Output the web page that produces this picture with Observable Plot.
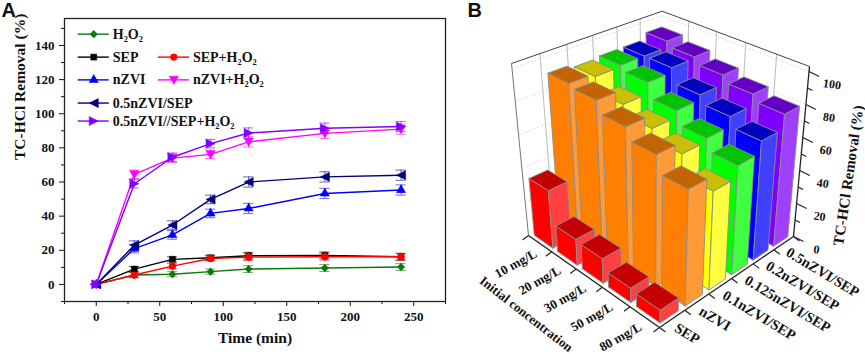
<!DOCTYPE html>
<html><head><meta charset="utf-8">
<script src="https://cdn.jsdelivr.net/npm/d3@7"></script>
<script src="https://cdn.jsdelivr.net/npm/@observablehq/plot@0.6"></script>
<style>html,body{margin:0;padding:0;background:#fff}#c{position:relative;width:865px;height:354px;overflow:hidden}#c svg{position:absolute;top:0;background:none}</style>
</head><body><div id="c"></div>
<script>
const times=[0,30,60,90,120,180,240];
const h2o2=[0,5.5,6,7.5,9,9.6,10.2];
const sep=[0,9,14.7,15.6,16.8,17,16.2];
const sepH=[0,5.5,10.7,15.2,16,16.2,16.2];
const nzvi=[0,21,29,41.6,44.5,53.3,55.3];
const nzviH=[0,64.5,74,76.2,83.5,88.5,91];
const comp=[0,23,34.8,49.8,60,63,64];
const compH=[0,59,74.5,82.5,88.7,91.5,92.5];
const errs=[0,1.5,1.5,1.5,2,2,2];
const errsBig=[0,2.5,2.5,2.5,3,3,3];
const tri=(pts)=>({draw(c,size){const r=Math.sqrt(size)*0.76;pts.forEach(([a,b],i)=>i?c.lineTo(a*r,b*r):c.moveTo(a*r,b*r));c.closePath();}});
const down=tri([[-1,-.8],[1,-.8],[0,1]]),left=tri([[1,-1],[1,1],[-1,0]]),right=tri([[-1,-1],[-1,1],[1,0]]);
const series=[
 {name:"H₂O₂",v:h2o2,e:errs,color:"#0a7a0a",sym:"diamond2",lx:78,ly:33.7},
 {name:"SEP",v:sep,e:errs,color:"#000000",sym:"square",lx:78,ly:56.7},
 {name:"SEP+H₂O₂",v:sepH,e:errs,color:"#ff0000",sym:"circle",lx:158,ly:56.7},
 {name:"nZVI",v:nzvi,e:errsBig,color:"#0000ff",sym:"triangle",lx:78,ly:79.5},
 {name:"nZVI+H₂O₂",v:nzviH,e:errsBig,color:"#ff00ff",sym:down,lx:158,ly:79.5},
 {name:"0.5nZVI/SEP",v:comp,e:errsBig,color:"#000080",sym:left,lx:78,ly:102.7},
 {name:"0.5nZVI//SEP+H₂O₂",v:compH,e:errsBig,color:"#8000ff",sym:right,lx:78,ly:120.7}];
const xD=p=>(p-96)/1.268, yD=p=>(284.3-p)/1.709;
const marksA=[];
for(const s of series){
  const rows=times.map((t,i)=>({t,v:s.v[i],e:s.e[i]}));
  marksA.push(
   Plot.ruleX(rows,{x:"t",y1:d=>d.v-d.e,y2:d=>d.v+d.e,stroke:s.color,strokeOpacity:.6,strokeWidth:1}),
   Plot.ruleY(rows,{y:d=>d.v-d.e,x1:d=>d.t-4,x2:d=>d.t+4,stroke:s.color,strokeOpacity:.6,strokeWidth:1}),
   Plot.ruleY(rows,{y:d=>d.v+d.e,x1:d=>d.t-4,x2:d=>d.t+4,stroke:s.color,strokeOpacity:.6,strokeWidth:1}),
   Plot.line(rows,{x:"t",y:"v",stroke:s.color,strokeWidth:1.4}),
   Plot.dot(rows,{x:"t",y:"v",fill:s.color,stroke:s.color,strokeWidth:.5,symbol:s.sym,r:3.4}),
   Plot.ruleY([yD(s.ly)],{x1:xD(s.lx),x2:xD(s.lx+31),stroke:s.color,strokeWidth:1.4}),
   Plot.dot([0],{x:xD(s.lx+15.5),y:yD(s.ly),fill:s.color,stroke:s.color,strokeWidth:.5,symbol:s.sym,r:3.4}),
   Plot.text([s.name],{x:xD(s.lx+34.5),y:yD(s.ly),textAnchor:"start",fontSize:14,fontWeight:"bold",fill:"#111"})
  );
}
const serif='"Liberation Serif",serif';
const plotA=Plot.plot({width:450,height:354,marginLeft:64,marginRight:5,marginTop:18,marginBottom:53,
 x:{domain:[-25,275]},y:{domain:[-10,155.8]},style:{fontFamily:serif,fontWeight:"bold",fontSize:"13px",color:"#111",background:"none"},
 marks:[
  Plot.frame({stroke:"#222",strokeWidth:1.3}),
  Plot.axisX({ticks:d3.range(-25,276,25).filter(d=>d%50),tickSize:3,fill:"none",label:null}),
  Plot.axisY({ticks:d3.range(-10,156,20),tickSize:3,fill:"none",label:null}),
  Plot.axisX({ticks:d3.range(0,251,50),tickSize:5,tickPadding:5,label:null,fontSize:13}),
  Plot.axisY({ticks:d3.range(0,141,20),tickSize:5,tickPadding:5,label:null,fontSize:13}),
  ...marksA,
  Plot.text(["Time (min)"],{frameAnchor:"bottom",dy:41,fontSize:15.5,fontWeight:"bold",fill:"#111"}),
  Plot.text(["TC-HCl Removal (%)"],{frameAnchor:"left",dx:-44,rotate:-90,fontSize:15.5,fontWeight:"bold",fill:"#111"}),
  Plot.text(["A"],{frameAnchor:"top-left",dx:-63,dy:-16,textAnchor:"start",fontSize:20,fontWeight:"bold",fontFamily:'"Liberation Sans",sans-serif',fill:"#111"})
 ]});

// Panel B
const concs=["10 mg/L","20 mg/L","30 mg/L","50 mg/L","80 mg/L"];
const mats=["SEP","nZVI","0.1nZVI/SEP","0.125nZVI/SEP","0.2nZVI/SEP","0.5nZVI/SEP"];
const v0=[34,15,14,8,7];
const v1=[91,89,82,75,65];
const v2=[89,80,74,68,56];
const v3=[90,87,78,70,63];
const v4=[90,90,81,76,70];
const v5=[94,91,87,83,79];
const values=[v0,v1,v2,v3,v4,v5];
const cols=[["#ff0000","#ff4040","#c40000"],["#ff8000","#ff9a36","#c46400"],["#ffff00","#ffff40","#c8c000"],["#00ff00","#40ff40","#00c400"],["#0000ff","#4040ff","#0000c0"],["#8000ff","#a040ff","#6400c4"]];
const hTop=103;
function quad(p){const [[x0,y0],[x1,y1],[x2,y2],[x3,y3]]=p;
 const dx1=x1-x2,dx2=x3-x2,sx=x0-x1+x2-x3,dy1=y1-y2,dy2=y3-y2,sy=y0-y1+y2-y3,den=dx1*dy2-dx2*dy1;
 const g=(sx*dy2-dx2*sy)/den,h=(dx1*sy-sx*dy1)/den,a=x1-x0+g*x1,b=x3-x0+h*x3,d=y1-y0+g*y1,e=y3-y0+h*y3;
 return (s,t)=>{const w=g*s+h*t+1;return [(a*s+b*t+x0)/w,(d*s+e*t+y0)/w];};}
const floorQ=quad([[528,235],[659,327],[793,236],[661.6,166.5]]);
const topQ=quad([[511,63],[660.6,138],[809,66],[661.7,10.7]]);
const proj=(s,t,h)=>{const f=floorQ(s,t),u=topQ(s,t),k=h/hTop;return [f[0]+(u[0]-f[0])*k,f[1]+(u[1]-f[1])*k];};
const faces=[];let fid=0;
const face=(pts,color)=>{fid++;[...pts,pts[0]].forEach(q=>{const [x,y]=proj(...q);faces.push({id:fid,x,y,color});});};
for(let j=5;j>=0;j--)for(let i=0;i<5;i++){
 const s0=(i+.1)/5,s1=(i+.9)/5,t0=(j+.14)/6,t1=(j+.86)/6,h=values[j][i],c=cols[j];
 face([[s0,t0,0],[s1,t0,0],[s1,t0,h],[s0,t0,h]],c[0]);
 face([[s1,t0,0],[s1,t1,0],[s1,t1,h],[s1,t0,h]],c[1]);
 face([[s0,t0,h],[s1,t0,h],[s1,t1,h],[s0,t1,h]],c[2]);
}
const seg=(a,b)=>{const p=proj(...a),q=proj(...b);return {x1:p[0],y1:p[1],x2:q[0],y2:q[1]};};
const off=(a,dx,dy)=>{const p=proj(...a);return {x1:p[0],y1:p[1],x2:p[0]+dx,y2:p[1]+dy};};
const wallV=[...d3.range(1,6).map(k=>seg([0,k/6,0],[0,k/6,hTop])),...d3.range(1,5).map(k=>seg([k/5,1,0],[k/5,1,hTop]))];
const wallH=d3.range(20,101,20).flatMap(h=>[seg([0,0,h],[0,1,h]),seg([0,1,h],[1,1,h])]);
const outline=[seg([0,0,hTop],[0,1,hTop]),seg([0,1,hTop],[1,1,hTop])];
const axesB=[seg([0,0,0],[1,0,0]),seg([1,0,0],[1,1,0]),seg([1,1,0],[1,1,hTop])];
const ticksB=[...d3.range(0,6).map(k=>off([k/5,0,0],-6,4.5)),...d3.range(0,7).map(k=>off([1,k/6,0],6,4.5)),
  ...d3.range(0,101,20).map(h=>off([1,1,h],10,5)),...d3.range(10,101,20).map(h=>off([1,1,h],5,2.5))];
const linkO=(data,o)=>Plot.link(data,{x1:"x1",y1:"y1",x2:"x2",y2:"y2",...o});
const concLab=concs.map((c,i)=>{const [x,y]=proj((i+.5)/5,0,0);return {c,x,y};});
const matLab=mats.map((c,j)=>{const [x,y]=proj(1,(j+.5)/6,0);return {c,x,y};});
const zLab=d3.range(0,101,20).map(h=>{const [x,y]=proj(1,1,h);return {h,x,y};});
const plotB=Plot.plot({width:415,height:354,margin:0,x:{domain:[450,865]},y:{domain:[354,0]},color:{type:"identity"},
 style:{fontFamily:serif,fontWeight:"bold",color:"#111",background:"none"},
 marks:[
  linkO(wallH,{stroke:"#ccc",strokeWidth:.7,strokeDasharray:"2,2"}),
  linkO(wallV,{stroke:"#bbb",strokeWidth:1}),
  linkO([seg([0,0,0],[0,0,hTop])],{stroke:"#777",strokeWidth:1}),
  linkO(outline,{stroke:"#444",strokeWidth:1}),
  Plot.line(faces,{x:"x",y:"y",z:"id",fill:"color",stroke:"#8c8c8c",strokeWidth:.9}),
  linkO(axesB,{stroke:"#222",strokeWidth:1.3}),
  linkO(ticksB,{stroke:"#222",strokeWidth:1.2}),
  Plot.text(concLab,{x:"x",y:"y",dx:-4,dy:9,text:"c",textAnchor:"end",rotate:-29,fontSize:13,fontWeight:"bold",fill:"#111"}),
  Plot.text(matLab,{x:"x",y:"y",dx:3.5,dy:8,text:"c",textAnchor:"start",rotate:31,fontSize:14.5,fontWeight:"bold",fill:"#111"}),
  Plot.text(zLab,{x:"x",y:"y",dx:23,dy:13,text:"h",rotate:8,fontSize:12,fontWeight:"bold",fill:"#111"}),
  Plot.text(["Initial concentration"],{x:525.7,y:313.7,rotate:38,fontSize:13,fontWeight:"bold",fill:"#111"}),
  Plot.text(["TC-HCl Removal (%)"],{x:848,y:175,rotate:-81.6,fontSize:15,fontWeight:"bold",fill:"#111"}),
  Plot.text(["B"],{x:467,y:10,textAnchor:"start",fontSize:20,fontWeight:"bold",fontFamily:'"Liberation Sans",sans-serif',fill:"#111"})
 ]});
const c=document.getElementById("c");plotB.style.left="450px";plotA.style.left="0";c.append(plotA,plotB);
</script></body></html>
